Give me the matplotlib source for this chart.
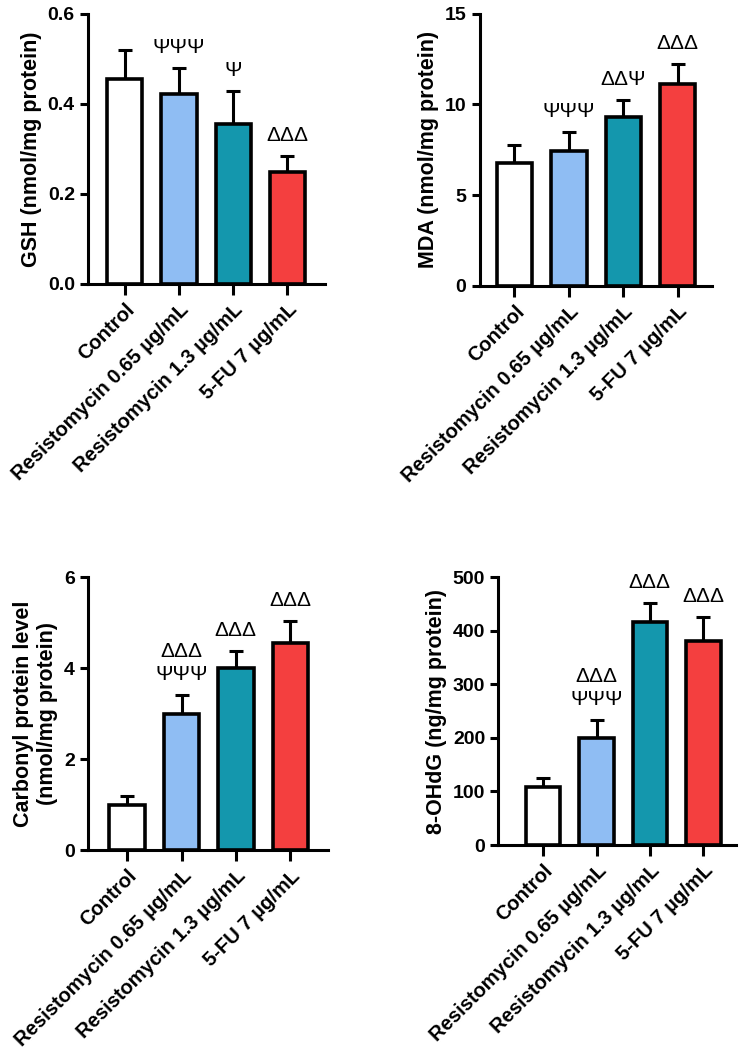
import numpy as np
import matplotlib.pyplot as plt

plt.rcParams['font.family'] = ['Liberation Sans', 'DejaVu Sans']
plt.rcParams['font.weight'] = 'bold'

# groups and colours
groups = ["Control", "Resistomycin 0.65 µg/mL", "Resistomycin 1.3 µg/mL", "5-FU 7 µg/mL"]
colors = ["#ffffff", "#8fbdf3", "#1497ad", "#f43f3f"]

# GSH
gsh_mean = [0.456, 0.422, 0.356, 0.249]
gsh_sd = [0.064, 0.058, 0.073, 0.035]
gsh_sig = ["", "ΨΨΨ", "Ψ", "ΔΔΔ"]

# MDA
mda_mean = [6.78, 7.44, 9.30, 11.14]
mda_sd = [1.00, 1.06, 0.96, 1.10]
mda_sig = ["", "ΨΨΨ", "ΔΔΨ", "ΔΔΔ"]

# Carbonyl protein
carb_mean = [0.99, 2.99, 4.00, 4.55]
carb_sd = [0.20, 0.42, 0.37, 0.48]
carb_sig = ["", "ΔΔΔ\nΨΨΨ", "ΔΔΔ", "ΔΔΔ"]

# 8-OHdG
ohdg_mean = [108, 200, 416, 381]
ohdg_sd = [17, 33, 35, 44]
ohdg_sig = ["", "ΔΔΔ\nΨΨΨ", "ΔΔΔ", "ΔΔΔ"]

fig = plt.figure(figsize=(7.46, 10.59), dpi=100)

panels = [
    ([0.118, 0.732, 0.318, 0.255], gsh_mean, gsh_sd, gsh_sig, "GSH (nmol/mg protein)",
     (0, 0.6), [0, 0.2, 0.4, 0.6], "{:.1f}", (-0.68, 3.7)),
    ([0.643, 0.730, 0.312, 0.257], mda_mean, mda_sd, mda_sig, "MDA (nmol/mg protein)",
     (0, 15), [0, 5, 10, 15], "{:.0f}", (-0.64, 3.64)),
    ([0.118, 0.197, 0.322, 0.258], carb_mean, carb_sd, carb_sig,
     "Carbonyl protein level\n(nmol/mg protein)",
     (0, 6), [0, 2, 4, 6], "{:.0f}", (-0.72, 3.7)),
    ([0.668, 0.202, 0.319, 0.253], ohdg_mean, ohdg_sd, ohdg_sig, "8-OHdG (ng/mg protein)",
     (0, 500), [0, 100, 200, 300, 400, 500], "{:.0f}", (-0.84, 3.62)),
]

x = np.arange(len(groups))
for rect, mean, sd, sig, ylab, ylim, yticks, fmt, xlim in panels:
    ax = fig.add_axes(rect)
    ax.errorbar(x, mean, yerr=[np.zeros(4), sd], fmt='none', ecolor='black',
                elinewidth=2.2, capsize=5, capthick=2.2, zorder=1)
    ax.bar(x, mean, width=0.65, color=colors, edgecolor='black', linewidth=2.6, zorder=2)
    for xi, m, s, t in zip(x, mean, sd, sig):
        if t:
            ax.annotate(t, (xi, m + s), xytext=(0, 8), textcoords='offset points',
                        ha='center', va='bottom', fontsize=15, fontweight='normal',
                        family=['Liberation Sans', 'DejaVu Sans'], linespacing=1.25)
    ax.set_ylim(*ylim)
    ax.set_xlim(*xlim)
    ax.set_yticks(yticks)
    ax.set_yticklabels([fmt.format(v) for v in yticks], fontsize=14, fontweight='bold')
    ax.set_xticks(x)
    ax.set_xticklabels(groups, rotation=45, ha='right', rotation_mode='anchor',
                       fontsize=14.5, fontweight='bold')
    ax.set_ylabel(ylab, fontsize=15.5, fontweight='bold', labelpad=4)
    for side in ['top', 'right']:
        ax.spines[side].set_visible(False)
    for side in ['left', 'bottom']:
        ax.spines[side].set_linewidth(2.2)
    ax.tick_params(axis='y', width=2.2, length=6)
    ax.tick_params(axis='x', width=2.2, length=8)

fig.savefig("out.png", dpi=100)
